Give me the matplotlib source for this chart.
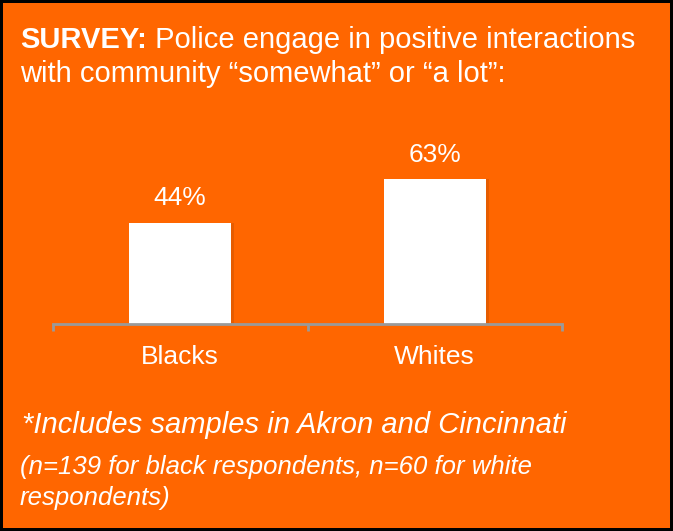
import matplotlib.pyplot as plt

groups = ['Blacks', 'Whites']
share = [44, 63]
labels = ['44%', '63%']

orange = '#FF6600'
plt.rcParams['font.family'] = ['Liberation Sans', 'DejaVu Sans']

fig = plt.figure(figsize=(6.73, 5.31), dpi=100, facecolor=orange,
                 edgecolor='black', linewidth=3)

# axes placed in pixel terms: x 53..562, baseline at y=324 from top
W, H = 673, 531
ax = fig.add_axes([53 / W, (H - 324) / H, 509 / W, 230 / H])
ax.set_facecolor(orange)
ax.set_xlim(-0.5, 1.5)
ax.set_ylim(0, 100)

x = range(len(groups))
# soft shadow behind the bars
ax.bar([i + 0.012 for i in x], share, width=0.4, color='#B84A00', alpha=0.35,
       zorder=1)
ax.bar(x, share, width=0.4, color='white', zorder=2)
for i, (v, t) in enumerate(zip(share, labels)):
    ax.annotate(t, (i, v), xytext=(0, 9), textcoords='offset points',
                ha='center', va='bottom', color='white', fontsize=19)

for s in ['top', 'right', 'left']:
    ax.spines[s].set_visible(False)
ax.spines['bottom'].set_color('#9A9A9A')
ax.spines['bottom'].set_linewidth(2)
ax.spines['bottom'].set_zorder(3)
ax.set_yticks([])
ax.set_xticks([-0.5, 0.5, 1.5])
ax.set_xticklabels([])
ax.tick_params(axis='x', length=5, width=2, color='#9A9A9A', direction='out')
ax.set_xticks([0, 1], minor=True)
ax.set_xticklabels(groups, minor=True)
ax.tick_params(axis='x', which='minor', length=0, pad=15, labelsize=19,
               labelcolor='white')

# heading, bold lead-in followed by regular text
t1 = fig.text(20 / W, 1 - 48 / H, 'SURVEY:', fontsize=21, fontweight='bold',
              color='white', va='baseline')
ax.annotate(' Police engage in positive interactions', xy=(1, 0),
            xycoords=t1, va='bottom', fontsize=21, color='white')
fig.text(20 / W, 1 - 82 / H, 'with community \u201csomewhat\u201d or \u201ca lot\u201d:',
         fontsize=21, color='white', va='baseline')

fig.text(22 / W, 1 - 433 / H, '*Includes samples in Akron and Cincinnati',
         fontsize=21, style='italic', color='white', va='baseline')
fig.text(20 / W, 1 - 474 / H, '(n=139 for black respondents, n=60 for white',
         fontsize=18.5, style='italic', color='white', va='baseline')
fig.text(20 / W, 1 - 505 / H, 'respondents)',
         fontsize=18.5, style='italic', color='white', va='baseline')

fig.savefig('out.png', dpi=100, facecolor=orange, edgecolor='black')
